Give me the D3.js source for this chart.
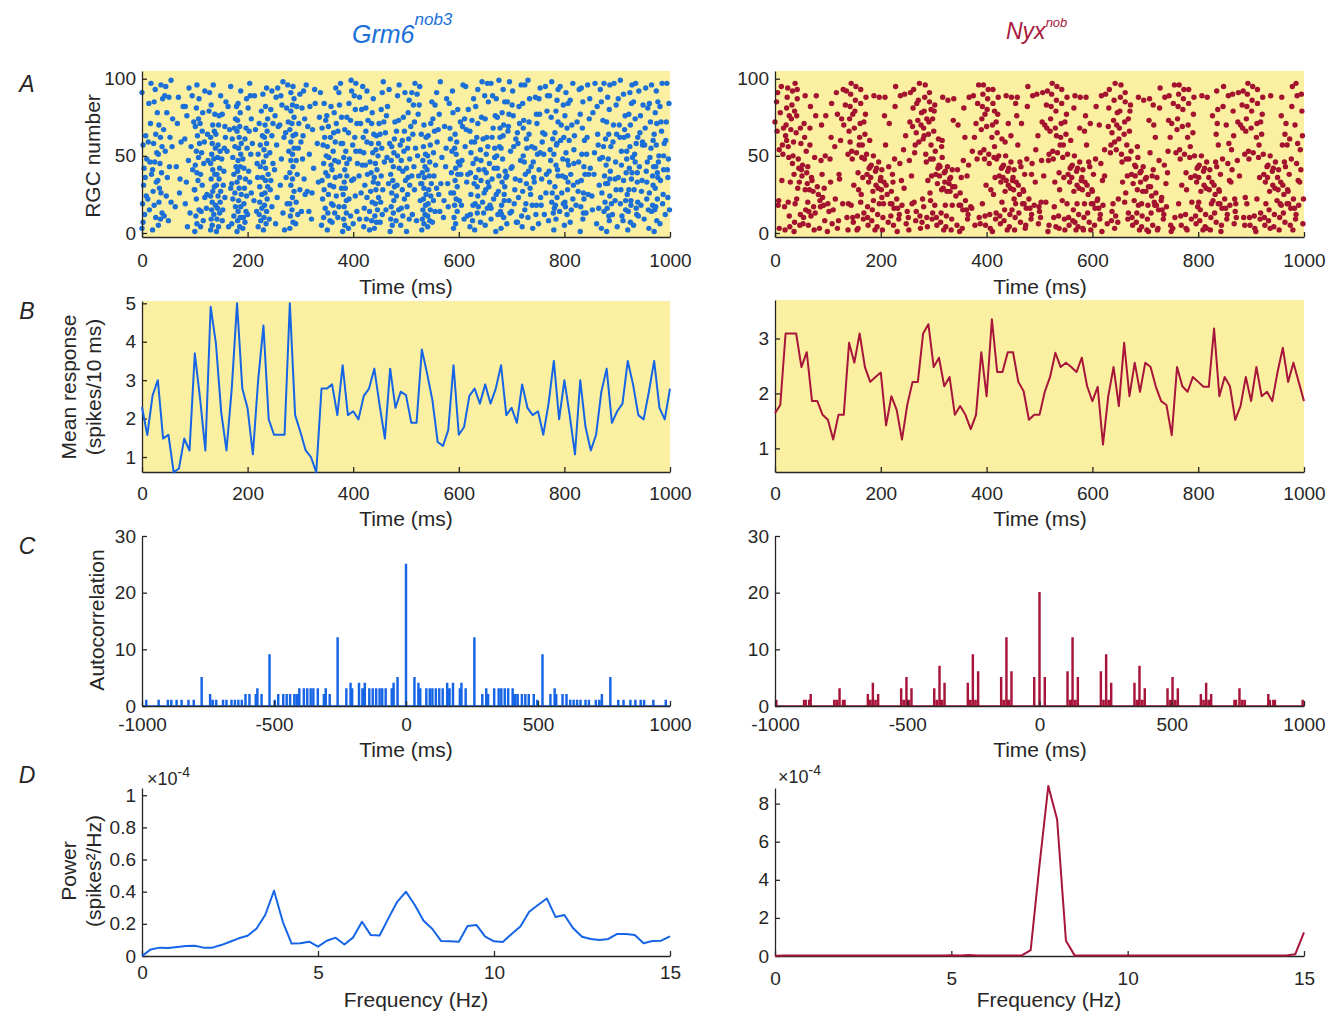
<!DOCTYPE html>
<html>
<head>
<meta charset="utf-8">
<script src="https://cdn.jsdelivr.net/npm/d3@7"></script>
<style>
  body { margin: 0; background: #fff; }
  text { font-family: "Liberation Sans", Arial, sans-serif; }
</style>
</head>
<body>
<svg id="fig" width="1338" height="1012"></svg>
<script>
// ---------- data ----------

// B: mean population response, one value per 10 ms bin (0..1000 ms)
var binTimes = d3.range(0, 1001, 10);
var grmMean = [2.30,1.57,2.60,3.00,1.48,1.58,0.60,0.70,1.48,1.17,3.70,2.52,1.17,4.91,3.96,2.17,1.17,2.78,5.00,2.78,
  2.26,1.07,3.00,4.42,1.98,1.58,1.58,1.58,5.00,2.09,1.65,1.17,1.00,0.60,2.78,2.78,2.89,2.09,3.39,2.09,
  2.19,1.98,2.59,2.78,3.30,2.35,1.48,3.30,2.28,2.70,2.61,1.89,1.89,3.80,3.17,2.48,1.39,1.29,1.70,3.39,
  1.58,1.78,2.59,2.78,2.39,2.89,2.39,2.78,3.39,2.09,2.28,1.89,2.89,2.28,2.09,2.19,1.58,2.39,3.50,1.98,
  3.00,2.09,1.07,3.00,1.78,1.17,1.58,2.70,3.30,1.89,2.19,2.39,3.50,2.89,2.09,1.98,2.70,3.50,2.28,1.98,2.78];
var nyxMean = [1.64,1.79,3.09,3.09,3.09,2.48,2.75,1.86,1.86,1.61,1.52,1.16,1.61,1.61,2.92,2.56,3.09,2.48,2.21,2.30,
  2.38,1.42,1.95,1.70,1.16,1.79,2.21,2.21,3.09,3.26,2.48,2.65,2.13,2.30,1.61,1.77,1.61,1.35,1.61,2.75,
  1.95,3.35,2.39,2.39,2.75,2.75,2.21,2.04,1.52,1.61,1.61,2.03,2.30,2.74,2.48,2.56,2.48,2.39,2.65,2.13,
  1.86,2.12,1.07,1.95,2.48,1.77,2.92,1.95,2.56,2.03,2.56,2.48,2.12,1.86,1.79,1.24,2.48,2.13,2.03,2.30,
  2.21,2.12,2.12,3.18,1.95,2.30,2.13,1.52,1.77,2.30,1.86,2.48,1.95,2.03,1.86,2.39,2.83,2.21,2.56,2.21,1.86];

// C: autocorrelation, positive lags (ms) and counts; zero lag separately (symmetric)
var grmAutoZero = 25;
var grmAutoLags = [32,47,54,77,90,100,113,126,139,156,165,178,204,210,226,259,289,304,311,334,351,361,374,387,
  404,413,423,439,452,465,484,497,517,547,563,569,593,608,622,635,648,661,680,693,719,732,742,774,804,824,850,869,889,902,937,984];
var grmAutoVals = [5,4,3,3,3,3,3,3,3,4,3,4,3,4,3,12,2,3,2,3,3,3,3,3,
  3,2,2,2,2,2,2,1,9,2,3,2,2,2,1,1,1,1,1,1,1,1,2,5,1,1,1,1,1,1,1,1];
var nyxAutoZero = 20;
var nyxAutoLags = [20,106,116,125,135,145,232,242,252,262,271,359,369,378,388,398,484,494,503,513,523,
  610,620,630,640,649,737,743,756,766,776,865,871,884,890,995];
var nyxAutoVals = [5,6,1,12,1,5,6,1,9,1,4,4,1,7,1,3,3,1,5,1,3,
  2,1,4,1,2,1,1,3,1,1,2,1,1,1,1];

// D: power spectrum (x1e-4 spikes^2/Hz), 0..15 Hz in 0.25 Hz steps
var freqs = d3.range(0, 15.001, 0.25);
var grmPower = [0,0.041,0.052,0.050,0.056,0.062,0.064,0.052,0.052,0.068,0.089,0.110,0.126,0.170,0.255,0.406,0.213,0.077,0.079,0.089,
  0.058,0.095,0.114,0.072,0.116,0.213,0.130,0.128,0.234,0.337,0.400,0.317,0.219,0.168,0.093,0.091,0.089,0.186,0.193,0.120,
  0.091,0.087,0.137,0.184,0.275,0.317,0.358,0.242,0.255,0.172,0.120,0.106,0.099,0.106,0.137,0.137,0.130,0.079,0.093,0.095,0.122];
var nyxPower = [0.01,0.02,0.03,0.03,0.02,0.03,0.03,0.02,0.03,0.03,0.02,0.02,0.02,0.02,0.02,0.03,0.02,0.02,0.02,0.03,
  0.04,0.03,0.05,0.03,0.03,0.03,0.02,0.03,0.03,0.31,4.77,8.93,7.16,0.80,0.02,0.02,0.03,0.02,0.02,0.03,
  0.02,0.02,0.03,0.02,0.02,0.03,0.03,0.02,0.02,0.03,0.02,0.02,0.03,0.03,0.02,0.02,0.02,0.02,0.03,0.09,1.24];

// A: rasters. one string per 10 ms bin, tokens "dNN" = ms offset in bin + RGC number
var grmRaster = [
"003 207 512 119 824 331 636 442 948 257 763 091","415 122 838 546 259 671 384 797",
"002 610 318 127 733 041 446 852 258 664 978 385 593","105 509 813 220 626 329 034 739 445 151 856 562 270 987 696",
"211 624 836 453 167 778 389 595","008 520 243 756 362 874 188 599","317 543 771 988","126 459 882 235",
"604 219 433 847 161 576 282 994","113 641 356 872 589 928",
"001 406 211 815 322 028 634 439 144 749 353 958 563 169 774 381 887 496",
"104 608 214 923 431 138 745 352 859 466 071 578 992","216 547 325 779 464 891",
"002 305 109 612 215 918 320 024 427 730 135 838 441 045 648 251 955 358 062 766 470 877 183 596",
"101 504 209 713 316 820 424 927 131 635 238 742 349 853 457 064 570 676 989",
"208 315 723 431 540 148 655 862 769 277 985","404 829 153 667 382 895",
"006 411 717 222 626 032 438 843 249 656 161 568 774 982",
"001 504 108 610 214 717 321 825 429 033 536 140 643 247 751 355 858 462 066 569 173 678 284 792",
"103 507 210 714 319 824 429 635 342 148 955 561 768 887","012 726 433 240 651 958 366 774 181 589 497",
"221 845 567 389 714 936","004 508 212 716 320 725 330 836 443 051 457 863 271 679 990",
"002 506 110 614 218 722 326 830 434 938 442 046 550 154 658 262 766 370 874 482 694",
"109 617 328 434 845 252 663 871 480 692","306 623 141 557 869 276 488 794","713 231 448 962 170 583 389 798",
"002 519 336 853 265 772 481 696",
"003 607 111 415 019 523 827 231 535 039 643 247 551 855 259 663 067 471 875 279 583 887 291 695",
"106 512 220 928 438 247 655 164 771 382 990","214 735 448 159 563 874 381 692 925","327 751 469 882 196 614",
"109 542 367 884 226 793","433 675 258 891","005 410 716 222 528 134 839 445 950 357 662 168 873 584",
"102 608 213 919 325 631 237 844 449 156 762 369 076 882","007 513 218 824 330 636 041 547 253 659 365 871 478 794",
"110 317 829 537 246 758 166 875 483 391 697","001 405 209 713 317 721 125 529 333 837 441 845 249 653 058 467 875",
"103 511 222 734 348 957 165 573 284 792 699","006 714 424 135 845 553 362 771 480 289 597",
"209 526 137 744 353 962 471 680 288 895","004 509 116 623 231 738 344 052 659 466 873 481 692",
"102 508 114 620 327 833 439 246 752 458 964 571 678 887","003 407 111 615 219 823 328 732 036 541 245 750 354 858 463 971",
"107 512 220 628 337 946 455 164 872 380 591 798","215 732 449 165 582 376 893 958",
"001 405 109 613 217 721 326 830 534 138 643 247 752 356 861 972","108 615 224 331 742 450 957 266 673 489 796",
"005 411 116 722 328 934 440 147 653 360 766 575 891","101 609 217 325 731 436 142 748 355 561 969 478 686",
"212 628 137 543 855 364 672 483 191 797","008 721 437 250 964 377 583 190 695 832",
"002 406 109 612 215 718 322 825 429 032 536 139 643 247 751 356 862 470",
"104 508 111 615 219 724 328 832 437 041 546 150 657 263 771 985","007 514 221 829 337 644 252 959 466 174 583 891",
"225 849 377 598 632 167 414","110 543 369 787 221 655 932","017 639 461 284 892 526 753 368 978",
"003 406 110 714 218 522 026 730 334 838 442 946 551 255 659 364 880","121 647 372 896 518 244 769 438",
"009 533 256 880 395 611 738 467 174","104 608 212 718 325 932 239 745 352 459 166 573 887",
"002 513 119 624 236 841 348 059 462 671 282 693 717 530","107 520 234 841 247 661 375 989 498 713 826 154",
"005 416 128 533 239 845 251 362 074 685 497 918 730 556","109 622 335 849 362 976 489 197 742 855 116 568",
"001 412 125 637 250 862 375 187 699 914 527 342 756 868","003 510 118 625 233 840 348 055 463 570 278 785 493 621 730 936 112",
"106 521 137 853 469 285 698 713 942 366 577","014 628 143 861 376 292 519 735 456 183 907",
"107 634 258 482 896 323 747 571 165 911","004 515 127 638 250 861 373 184 596 719 832 446 955 268",
"110 625 240 856 372 487 199 529 743 364 918","003 718 236 455 871 588 612 333 951 146 777",
"106 523 241 859 377 494 618 735 965 287 452","212 638 364 889 526 151 779 495",
"008 620 233 447 861 575 289 698 726 140 354 913","002 409 116 623 230 837 444 051 658 265 872 479 686 893 318 741 557",
"114 637 360 883 295 526 748 470 819 962","005 512 120 628 236 844 352 960 568 176 784 391 647 217 733",
"107 622 238 854 470 186 697 731 845 315 963","218 746 472 893 533 627",
"001 509 117 626 234 743 351 860 468 077 585 294 613 938 722","113 638 362 887 525 251 774 496 942",
"224 752 478 897 638 315","106 631 457 282 893 516 748 364","003 514 126 637 249 861 373 085 597 720 832 456 944",
"001 508 116 624 232 740 348 856 464 072 580 288 696 411 919 635","112 635 259 883 497 621 746 370 828 964",
"004 619 236 853 470 287 699 728 844 562 911","108 621 234 848 362 576 290 615 739 853 467 925",
"002 507 114 621 228 735 342 949 456 063 570 277 784 491 896 618 839","105 616 228 839 351 962 474 185 597 712 833 446 658 920",
"011 627 243 859 476 192 518 734 857 365 983","109 633 257 881 494 622 746 368 915 540",
"003 514 126 737 249 860 372 184 596 718 831 455 943","001 508 115 622 229 736 343 950 457 064 571 278 785 492 317 639 846",
"106 619 234 850 466 182 597 725 841 372 958","112 636 260 884 497 623 748 372 915 541"];

var nyxRaster = [
"072 385 591 854 803 618 466 721","078 295 457 668 817 902 551 334","063 170 281 388 494 556 649 711 804 933 776 260 520",
"067 174 283 392 450 559 638 707 819 897 779 345 601","065 176 287 293 448 542 633 705 812 868 958 329 122",
"041 137 244 306 410 571 662 789 815 953 728","039 132 243 305 414 528 657 782 811 936 668 220",
"034 227 402 549 613 776 889 317","030 225 403 521 617 747 870 938","023 218 408 550 676 901 329",
"019 214 448 662 784 806 533","015 356 691 803 877 422","008 235 460 674 819 993 138",
"070 383 592 851 610 802 919","066 174 282 390 497 553 648 710 807 931 777 259 418","068 179 286 395 452 611 703 828 739 957 502",
"062 171 284 293 449 557 636 709 813 872 948 325 220","064 177 288 351 438 510 605 733 842 960 517","043 136 244 308 415 527 650 789 902 621",
"040 131 242 304 412 529 646 788 934 719","036 128 241 302 410 519 633 776 888 957 223","031 225 407 543 671 819 911",
"027 119 238 405 516 648 782 895 333","022 216 409 512 645 789 934 101","018 354 590 806 763 429","014 210 447 572 691 837 919 302",
"069 181 293 452 557 608 714 765 884 320","073 186 259 397 411 670 778 807 922 503","061 168 279 388 496 551 646 710 804 934 774 263 117",
"064 172 285 291 448 557 637 709 813 874 948 326 580 421","066 179 283 353 438 510 605 732 842 961 218","044 137 243 307 413 528 649 788 902 556 660 829",
"039 133 240 304 411 527 643 786 932 218","035 127 236 302 409 518 630 773 887 541","030 224 405 541 670 818 901",
"026 118 236 403 515 647 781 962","021 215 409 512 644 788 337","017 353 589 805 762 216",
"071 384 596 852 610 806 248","067 174 282 390 496 554 648 711 805 931 777 219","069 180 287 393 451 612 703 828 545",
"062 170 284 293 449 556 636 709 813 872 948 325 579 101","065 177 288 350 437 511 606 733 842 961 920","043 136 244 308 415 527 650 789 902 559 734",
"040 131 242 304 412 529 646 788 934 663 171 815","036 128 241 302 410 519 633 776 888 957 584 222","031 225 407 543 671 819 113 346 928",
"027 119 238 405 516 648 782 895 303","022 216 409 512 645 789 538","018 354 590 806 763 233 917","014 210 447 572 691 837 320",
"070 383 592 851 601 805 468 747 220","066 174 282 390 497 553 648 710 817 933","068 179 286 395 452 611 703 828 739 957 263 104",
"062 171 284 293 449 557 636 709 802 872 321","064 177 288 351 438 510 605 733 842 960 219","043 136 244 308 415 527 650 789 902 581 707",
"040 131 242 304 412 529 646 788 934 668 119","036 128 241 302 410 519 633 776 888 957 566 203","031 225 407 543 671 819 113 346 928 702",
"027 119 238 405 516 648 782 921","022 216 409 512 645 789 934 370 801","018 354 590 806 337",
"069 181 293 452 557 608 714 765 919","073 186 259 397 411 670 778 807 922 554 203","061 168 279 388 496 551 646 733",
"064 172 285 291 448 557 637 709 813 874 948 326 120","066 179 283 353 438 510 605 732 921","044 137 243 307 413 528 649 788 902 556 718",
"039 133 240 304 411 527 643 786 319","035 127 236 302 409 518 630 773 887 952 601","030 224 405 541 670 818 113 337 583 962 720",
"026 118 236 403 515 647 781 894 302","021 215 409 512 644 788 932 123","017 353 589 805 762 239 473 901",
"071 384 596 852 610 203","067 174 282 390 496 554 648 711 805 931 319","069 180 287 393 451 612 703 828 739 902",
"062 170 284 293 449 556 636 709 820","065 177 288 350 437 511 606 733 842 917","043 136 244 308 415 527 650 789 902 120",
"040 131 242 304 412 529 646 788 603","036 128 241 302 410 519 633 776 821","031 225 407 543 671 819 113 346 928 857 464 780 592",
"027 119 238 405 516 648 782 895 301","022 216 409 512 645 789 934 370 858","018 354 590 806 763 233 441 679 922",
"014 210 447 572 691 837 119","070 383 592 851 610 805 468 923","066 174 282 390 497 553 648 710 805 219",
"068 179 286 395 452 611 703 901","062 171 284 293 449 557 636 709 813 872 122","064 177 288 351 438 510 605 733 819",
"043 136 244 308 415 527 650 789 603","040 131 242 304 412 529 646 921","036 128 241 302 410 519 633 776 888 957 718",
"031 225 407 543 671 819 113 346 928 857 464","027 119 238 405 516 648 782 895 361 902","022 216 409 512 645 789 934 370 858 597",
"018 354 590 806 763 233 441 679 922"];

// ---------- drawing ----------
var ink = "#262626";
var blueLine = "#1565e6", blueDot = "#1c6fd6", redLine = "#a8153a", redDot = "#a3122f", yellow = "#fbf0a1";
var cols = [{x0: 142, x1: 670}, {x0: 775, x1: 1304}];

var svg = d3.select("#fig");

function styleAxis(g) {
  g.attr("font-family", null).attr("font-size", null);
  g.select(".domain").attr("stroke", ink).attr("stroke-width", 1.3);
  g.selectAll(".tick line").attr("stroke", ink).attr("stroke-width", 1.3);
  g.selectAll(".tick text").attr("fill", ink).attr("font-size", 19);
}

// one panel: background, axes, returns scales
function panel(col, top, bottom, xDom, yDom, xTicks, yTicks, padX, bg) {
  var c = cols[col];
  var x = d3.scaleLinear().domain(xDom).range([c.x0, c.x1]);
  var y = d3.scaleLinear().domain(yDom).range([bottom, top]);
  if (bg) {
    svg.append("rect").attr("x", c.x0).attr("y", top)
      .attr("width", c.x1 - c.x0).attr("height", bottom - top).attr("fill", bg);
  }
  var gx = svg.append("g").attr("transform", "translate(0," + bottom + ")")
    .call(d3.axisBottom(x).tickValues(xTicks).tickSizeInner(-5).tickSizeOuter(0)
      .tickPadding(padX).tickFormat(function(d) { return String(d); }));
  var gy = svg.append("g").attr("transform", "translate(" + c.x0 + ",0)")
    .call(d3.axisLeft(y).tickValues(yTicks).tickSizeInner(-5).tickSizeOuter(0)
      .tickPadding(6).tickFormat(function(d) { return String(d); }));
  styleAxis(gx); styleAxis(gy);
  return {x: x, y: y, g: [gx, gy]};
}

function raster(p, bins, color) {
  var pts = [];
  bins.forEach(function(s, i) {
    s.split(" ").forEach(function(tok) {
      pts.push({t: binTimes[i] + +tok[0], n: +tok.slice(1)});
    });
  });
  svg.append("g").selectAll("circle").data(pts).join("circle")
    .attr("cx", function(d) { return p.x(d.t); })
    .attr("cy", function(d) { return p.y(d.n); })
    .attr("r", 2.7).attr("fill", color);
  p.g.forEach(function(g) { g.raise(); });
}

function trace(p, xs, ys, color, w) {
  var line = d3.line().x(function(d, i) { return p.x(xs[i]); }).y(function(d) { return p.y(d); });
  svg.append("path").datum(ys).attr("d", line).attr("fill", "none")
    .attr("stroke", color).attr("stroke-width", w).attr("stroke-linejoin", "round");
}

function autocorr(p, zero, lags, vals, color) {
  var all = [{l: 0, v: zero}];
  lags.forEach(function(l, i) { all.push({l: l, v: vals[i]}); all.push({l: -l, v: vals[i]}); });
  all.sort(function(a, b) { return a.l - b.l; });
  var pts = [[-1000, 0]];
  all.forEach(function(q) { pts.push([q.l - 2, 0], [q.l - 2, q.v], [q.l + 2, q.v], [q.l + 2, 0]); });
  pts.push([1000, 0]);
  svg.append("path").datum(pts)
    .attr("d", d3.line().x(function(d) { return p.x(d[0]); }).y(function(d) { return p.y(d[1]); }))
    .attr("fill", "none").attr("stroke", color).attr("stroke-width", 1.4);
  p.g.forEach(function(g) { g.raise(); });
}

// Row A
var aL = panel(0, 71, 237, [0, 1000], [-2.6, 105], [0, 200, 400, 600, 800, 1000], [0, 50, 100], 17, yellow);
var aR = panel(1, 71, 237, [0, 1000], [-2.6, 105], [0, 200, 400, 600, 800, 1000], [0, 50, 100], 17, yellow);
raster(aL, grmRaster, blueDot);
raster(aR, nyxRaster, redDot);

// Row B
var bL = panel(0, 301, 472, [0, 1000], [0.61, 5.06], [0, 200, 400, 600, 800, 1000], [1, 2, 3, 4, 5], 15, yellow);
var bR = panel(1, 300, 472, [0, 1000], [0.57, 3.70], [0, 200, 400, 600, 800, 1000], [1, 2, 3], 15, yellow);
trace(bL, binTimes, grmMean, blueLine, 2);
trace(bR, binTimes, nyxMean, redLine, 2);

// Row C
var cL = panel(0, 536, 706, [-1000, 1000], [0, 30], [-1000, -500, 0, 500, 1000], [0, 10, 20, 30], 12);
var cR = panel(1, 536, 706, [-1000, 1000], [0, 30], [-1000, -500, 0, 500, 1000], [0, 10, 20, 30], 12);
autocorr(cL, grmAutoZero, grmAutoLags, grmAutoVals, blueLine);
autocorr(cR, nyxAutoZero, nyxAutoLags, nyxAutoVals, redLine);

// Row D
var dL = panel(0, 788, 956, [0, 15], [0, 1.045], [0, 5, 10, 15], [0, 0.2, 0.4, 0.6, 0.8, 1], 10);
var dR = panel(1, 788, 956, [0, 15], [0, 8.82], [0, 5, 10, 15], [0, 2, 4, 6, 8], 16);
trace(dL, freqs, grmPower, blueLine, 2);
trace(dR, freqs, nyxPower, redLine, 2);

// ---------- text ----------
function label(x, y, str, size, opts) {
  opts = opts || {};
  var t = svg.append("text").attr("x", x).attr("y", y).attr("font-size", size)
    .attr("fill", opts.fill || ink).attr("text-anchor", opts.anchor || "middle").text(str);
  if (opts.rotate) t.attr("transform", "rotate(-90," + x + "," + y + ")");
  if (opts.italic) t.attr("font-style", "italic");
  return t;
}

// axis titles
[287, 519, 750].forEach(function(yy) {
  label(406, yy + 7, "Time (ms)", 21);
  label(1040, yy + 7, "Time (ms)", 21);
});
label(416, 1007, "Frequency (Hz)", 21);
label(1049, 1007, "Frequency (Hz)", 21);

label(100, 156, "RGC number", 21, {rotate: true});
label(76, 387, "Mean response", 21, {rotate: true});
label(101, 387, "(spikes/10 ms)", 21, {rotate: true});
label(104, 620, "Autocorrelation", 21, {rotate: true});
label(76, 871, "Power", 21, {rotate: true});
label(101, 871, "(spikes\u00B2/Hz)", 21, {rotate: true});

// panel letters
[["A", 92], ["B", 319], ["C", 554], ["D", 783]].forEach(function(p) {
  label(27, p[1], p[0], 23, {italic: true});
});

// scale factors
[[147, 785], [778, 783]].forEach(function(p) {
  var t = svg.append("text").attr("x", p[0]).attr("y", p[1]).attr("font-size", 18).attr("fill", ink);
  t.append("tspan").text("\u00D710");
  t.append("tspan").attr("dy", -8).attr("font-size", 14).text("-4");
});

// column titles
var t1 = svg.append("text").attr("x", 352).attr("y", 43).attr("font-size", 25)
  .attr("font-style", "italic").attr("fill", "#1a70d8");
t1.append("tspan").text("Grm6");
t1.append("tspan").attr("dy", -18).attr("font-size", 17).text("nob3");
var t2 = svg.append("text").attr("x", 1006).attr("y", 39).attr("font-size", 23)
  .attr("font-style", "italic").attr("fill", "#a8183c");
t2.append("tspan").text("Nyx");
t2.append("tspan").attr("dy", -12).attr("font-size", 13).text("nob");
</script>
</body>
</html>
